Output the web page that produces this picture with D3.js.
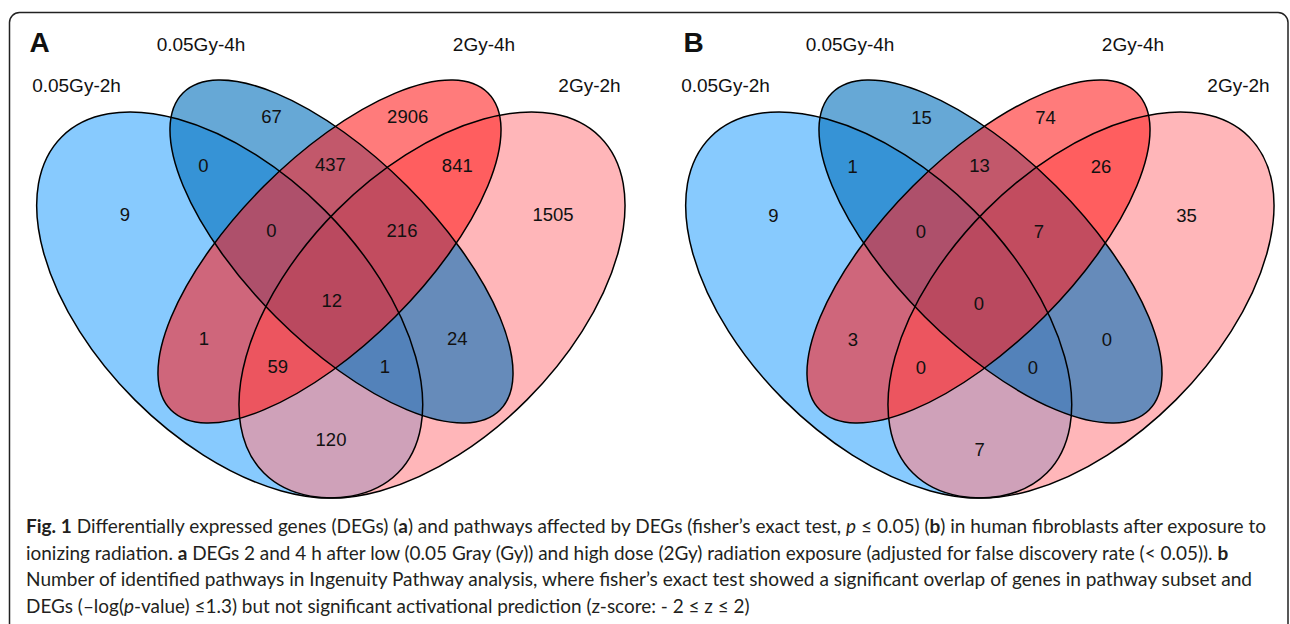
<!DOCTYPE html>
<html>
<head>
<meta charset="utf-8">
<script src="https://cdn.jsdelivr.net/npm/d3@7"></script>
<style>
  body { margin: 0; background: #fff; }
  svg { display: block; }
</style>
</head>
<body>
<div id="chart-area"></div>
<script>
// Four-set Venn diagrams (A: DEGs, B: pathways) + figure caption

const WIDTH = 1290
const HEIGHT = 624

// sets, in the order the ellipses are painted
const setNames = ["0.05Gy-2h", "0.05Gy-4h", "2Gy-4h", "2Gy-2h"]
const setColors = ["#37A7FD", "#006EBB", "#FF2323", "#FF858A"]
const paintOrder = [0, 3, 1, 2]

// regions as membership strings over setNames
const regions = ["1000", "0100", "0010", "0001", "1100", "0110", "0011",
  "1110", "0111", "1111", "1010", "1011", "1101", "0101", "1001"]
const countsA = [9, 67, 2906, 1505, 0, 437, 841, 0, 216, 12, 1, 59, 1, 24, 120]
const countsB = [9, 15, 74, 35, 1, 13, 26, 0, 7, 0, 3, 0, 0, 0, 7]

const panels = ["A", "B"]

const svg = d3.select("#chart-area").append("svg")
  .attr("width", WIDTH)
  .attr("height", HEIGHT)

// figure frame
svg.append("rect")
  .attr("x", 9.5)
  .attr("y", 12.5)
  .attr("width", 1278.5)
  .attr("height", 680)
  .attr("rx", 10)
  .attr("fill", "none")
  .attr("stroke", "#222")
  .attr("stroke-width", 1.5)

// ellipse geometry (panel-local pixels), one per set
const ellipseGeo = [
  { cx: 229.7, cy: 305, rx: 237.7, ry: 134.2, rot: 45 },
  { cx: 341.5, cy: 251.5, rx: 224.2, ry: 92.6, rot: 45 },
  { cx: 329.5, cy: 251.5, rx: 224.2, ry: 92.6, rot: -45 },
  { cx: 432, cy: 305, rx: 237.7, ry: 134.2, rot: -45 }
]

// count label anchors, per panel (absolute pixels)
const labelPosA = [[125, 214], [271.5, 116], [407.7, 116], [553, 214], [203.3, 165],
  [330.4, 164.5], [457.3, 165], [271.5, 230], [402, 230], [331.7, 300],
  [204, 338.5], [277.7, 366], [385, 366], [457.3, 338.5], [331, 439]]
const labelPosB = [[773.3, 215], [921.5, 117], [1045.5, 117], [1186.5, 215], [852.7, 166],
  [979.5, 165], [1101, 166], [921, 231], [1039, 231], [979, 303],
  [853, 339.5], [921, 367], [1033, 367], [1107, 339.5], [979.6, 449]]

const panelOffset = [0, 649]
const panelLetterX = [29.5, 683.5]
// set label anchors for panel A: [x center, baseline]
const setLabelPos = [[76.5, 92], [201, 50.5], [484, 50.5], [589.5, 92]]

panels.forEach((p, pi) => {
  const counts = pi === 0 ? countsA : countsB
  const labelPos = pi === 0 ? labelPosA : labelPosB

  const g = svg.append("g")
    .attr("transform", `translate(${panelOffset[pi]}, 0)`)

  // fills
  paintOrder.forEach(si => {
    const e = ellipseGeo[si]
    g.append("ellipse")
      .attr("transform", `translate(${e.cx}, ${e.cy}) rotate(${e.rot})`)
      .attr("rx", e.rx)
      .attr("ry", e.ry)
      .attr("fill", setColors[si])
      .attr("fill-opacity", 0.6)
  })
  // outlines on top
  ellipseGeo.forEach(e => {
    g.append("ellipse")
      .attr("transform", `translate(${e.cx}, ${e.cy}) rotate(${e.rot})`)
      .attr("rx", e.rx)
      .attr("ry", e.ry)
      .attr("fill", "none")
      .attr("stroke", "#000")
      .attr("stroke-width", 1.5)
  })

  // set names
  setNames.forEach((name, i) => {
    g.append("text")
      .attr("x", setLabelPos[i][0])
      .attr("y", setLabelPos[i][1])
      .attr("text-anchor", "middle")
      .attr("font-family", "'Liberation Sans', Arial, sans-serif")
      .attr("font-size", "19px")
      .attr("fill", "#111")
      .text(name)
  })

  // panel letter
  svg.append("text")
    .attr("x", panelLetterX[pi])
    .attr("y", 52)
    .attr("font-family", "'Liberation Sans', Arial, sans-serif")
    .attr("font-weight", "bold")
    .attr("font-size", "28px")
    .attr("fill", "#111")
    .text(p)

  // region counts
  regions.forEach((r, i) => {
    svg.append("text")
      .attr("x", labelPos[i][0])
      .attr("y", labelPos[i][1])
      .attr("dy", "0.36em")
      .attr("text-anchor", "middle")
      .attr("font-family", "'Liberation Sans', Arial, sans-serif")
      .attr("font-size", "18.5px")
      .attr("fill", "#111")
      .text(counts[i])
  })
})

// caption, line by line: [text, style]
const captionLines = [
  [["Fig. 1", "b"], [" Differentially expressed genes (DEGs) (", ""], ["a", "b"],
   [") and pathways affected by DEGs (fisher’s exact test, ", ""], ["p", "i"],
   [" ≤ 0.05) (", ""], ["b", "b"], [") in human fibroblasts after exposure to", ""]],
  [["ionizing radiation. ", ""], ["a", "b"],
   [" DEGs 2 and 4 h after low (0.05 Gray (Gy)) and high dose (2Gy) radiation exposure (adjusted for false discovery rate (< 0.05)). ", ""],
   ["b", "b"]],
  [["Number of identified pathways in Ingenuity Pathway analysis, where fisher’s exact test showed a significant overlap of genes in pathway subset and", ""]],
  [["DEGs (–log(", ""], ["p", "i"], ["-value) ≤1.3) but not significant activational prediction (z-score: - 2 ≤ z ≤ 2)", ""]]
]
const captionWidths = [1241, 1203, 1227, 724]
const captionBaselines = [533, 559.5, 586, 612.5]

captionLines.forEach((line, li) => {
  const t = svg.append("text")
    .attr("font-family", "Lato, 'Open Sans', sans-serif")
    .attr("font-size", "18.5px")
    .attr("fill", "#231f20")
  line.forEach(([s, st]) => {
    const ts = t.append("tspan").text(s)
    if (st === "b") ts.attr("font-weight", "bold")
    if (st === "i") ts.attr("font-style", "italic")
  })
  const natural = t.node().getComputedTextLength()
  const k = captionWidths[li] / natural
  t.attr("transform", `translate(26, ${captionBaselines[li]}) scale(${k}, 1)`)
})
</script>
</body>
</html>
